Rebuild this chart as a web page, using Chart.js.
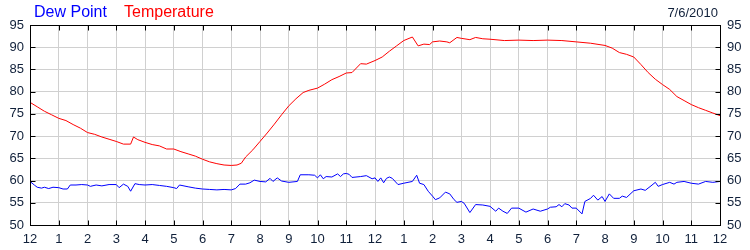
<!DOCTYPE html>
<html>
<head>
<meta charset="utf-8">
<script src="https://cdn.jsdelivr.net/npm/chart.js@4.4.1/dist/chart.umd.min.js"></script>
<style>
  html, body { margin: 0; padding: 0; background: #ffffff; }
  #wrap { position: relative; width: 750px; height: 250px; }
  #c { position: absolute; left: 0; top: 0; }
  .lbl { position: absolute; font-family: "Liberation Sans", Arial, sans-serif; white-space: nowrap; }
  #dew { left: 34px; top: 4px; font-size: 16px; line-height: 16px; color: #0000ff; }
  #tmp { left: 124px; top: 4px; font-size: 16px; line-height: 16px; color: #ff0000; }
  #date { right: 32px; top: 6px; font-size: 13px; line-height: 13px; color: #10203a; }
</style>
</head>
<body>
<div id="wrap">
  <canvas id="c" width="750" height="250"></canvas>
  <span class="lbl" id="dew">Dew Point</span>
  <span class="lbl" id="tmp">Temperature</span>
  <span class="lbl" id="date">7/6/2010</span>
</div>
<script>
const hourLabels = ['12','1','2','3','4','5','6','7','8','9','10','11','12','1','2','3','4','5','6','7','8','9','10','11','12'];
const yTicks = [50, 55, 60, 65, 70, 75, 80, 85, 90, 95];

const tempHours = [0,0.25,0.5,0.75,1,1.25,1.5,1.75,2,2.25,2.5,2.75,3,3.25,3.5,3.6,3.75,4,4.25,4.5,4.75,5,5.25,5.5,5.75,6,6.25,6.5,6.75,7,7.2,7.35,7.5,7.75,8,8.25,8.5,8.75,9,9.25,9.5,9.7,10,10.25,10.5,10.75,11,11.2,11.5,11.7,12,12.25,12.5,12.75,13,13.3,13.5,13.7,13.9,14,14.25,14.5,14.6,14.85,15,15.3,15.5,15.75,16,16.5,17,17.5,18,18.5,19,19.5,20,20.25,20.5,20.75,21,21.25,21.5,21.75,22,22.25,22.5,22.75,23,23.25,23.5,23.75,24];
const tempValues = [77.6,76.6,75.6,74.8,74.0,73.5,72.6,71.8,70.8,70.4,69.8,69.3,68.8,68.2,68.2,69.8,69.2,68.6,68.1,67.8,67.1,67.1,66.5,66.0,65.5,64.8,64.2,63.8,63.5,63.4,63.5,63.9,65.3,66.9,68.8,70.7,72.7,74.8,76.8,78.4,79.8,80.3,80.8,81.7,82.7,83.4,84.2,84.3,86.3,86.2,87.0,87.8,89.1,90.3,91.5,92.3,90.3,90.7,90.6,91.2,91.4,91.2,91.0,92.2,92.0,91.7,92.2,91.9,91.8,91.5,91.6,91.5,91.6,91.5,91.2,90.9,90.4,89.8,88.8,88.4,87.8,86.1,84.3,82.8,81.6,80.5,78.9,78.0,77.1,76.4,75.8,75.2,74.6];

const dewHours = [0,0.15,0.25,0.4,0.5,0.65,0.8,1,1.15,1.3,1.4,1.6,1.8,2,2.1,2.3,2.5,2.75,3,3.1,3.25,3.4,3.5,3.65,3.8,4,4.25,4.5,4.75,5,5.1,5.2,5.5,5.75,6,6.25,6.5,6.75,7,7.15,7.3,7.5,7.65,7.8,8,8.2,8.35,8.45,8.6,8.75,9,9.3,9.4,9.7,9.9,10,10.1,10.2,10.3,10.5,10.7,10.8,10.9,11,11.1,11.2,11.5,11.7,11.9,12,12.1,12.2,12.3,12.4,12.5,12.6,12.8,13,13.3,13.45,13.55,13.7,13.85,14,14.1,14.25,14.45,14.6,14.75,14.85,15,15.1,15.3,15.5,15.75,16,16.2,16.3,16.45,16.6,16.75,17,17.25,17.5,17.75,18,18.1,18.3,18.4,18.5,18.6,18.75,18.85,19,19.2,19.3,19.5,19.6,19.75,19.9,20,20.15,20.3,20.5,20.6,20.75,21,21.25,21.4,21.6,21.75,21.85,22,22.25,22.4,22.5,22.75,23,23.25,23.5,23.75,24];
const dewValues = [59.8,59.0,58.5,58.3,58.5,58.2,58.5,58.4,58.1,58.1,59.0,59.0,59.1,59.0,58.7,59.0,58.8,59.1,59.1,58.4,59.2,58.7,57.6,59.3,59.1,59.0,59.1,58.9,58.7,58.4,58.2,59.0,58.6,58.3,58.1,58.0,57.9,58.0,57.9,58.2,59.2,59.2,59.5,60.1,59.8,59.7,60.5,59.8,60.6,59.9,59.6,59.8,61.3,61.3,61.2,60.6,61.3,60.4,60.9,60.8,61.5,60.9,61.5,61.6,61.4,60.7,60.9,61.1,60.4,60.6,59.8,60.6,59.5,60.5,60.8,60.5,59.1,59.4,59.8,61.2,59.4,59.1,57.6,56.5,55.7,56.1,57.4,57.0,55.7,55.1,55.3,54.9,52.8,54.6,54.5,54.2,53.1,53.8,53.1,52.6,53.8,53.8,52.9,53.6,53.1,53.6,54.0,54.1,54.6,54.1,54.8,54.5,53.8,53.8,52.5,55.3,56.0,56.7,55.6,56.4,55.3,57.0,56.0,56.0,56.5,56.2,57.7,58.1,57.8,58.8,59.6,58.7,59.1,59.6,59.2,59.6,59.8,59.4,59.2,59.8,59.6,59.8];

const toPoints = (xs, ys) => xs.map((x, i) => ({ x: x, y: ys[i] }));

Chart.defaults.font.family = '"Liberation Sans", Arial, sans-serif';
Chart.defaults.font.size = 13;
Chart.defaults.color = '#10203a';

const GRID = '#d0d0d0';

const frameTicks = {
  id: 'frameTicks',
  afterDraw(chart) {
    const ctx = chart.ctx;
    const a = chart.chartArea;
    const xs = chart.scales.x;
    const ys = chart.scales.y;
    const L = 5;
    ctx.save();
    ctx.strokeStyle = '#000000';
    ctx.lineWidth = 1;
    ctx.beginPath();
    const top = Math.round(a.top) + 0.5;
    const bot = Math.round(a.bottom) + 0.5;
    const lft = Math.round(a.left) + 0.5;
    const rgt = Math.round(a.right) + 0.5;
    ctx.moveTo(lft, top); ctx.lineTo(rgt, top);
    ctx.lineTo(rgt, bot); ctx.lineTo(lft, bot); ctx.closePath();
    for (let h = 1; h < hourLabels.length - 1; h++) {
      const px = Math.round(xs.getPixelForValue(h)) + 0.5;
      ctx.moveTo(px, top); ctx.lineTo(px, top + L);
      ctx.moveTo(px, bot); ctx.lineTo(px, bot - L);
    }
    for (const v of yTicks) {
      const py = Math.round(ys.getPixelForValue(v)) + 0.5;
      ctx.moveTo(lft, py); ctx.lineTo(lft + L, py);
      ctx.moveTo(rgt, py); ctx.lineTo(rgt - L, py);
    }
    ctx.stroke();
    ctx.restore();
  }
};

new Chart(document.getElementById('c'), {
  type: 'line',
  data: {
    datasets: [
      { label: 'Temperature', data: toPoints(tempHours, tempValues), borderColor: '#ff0000', borderWidth: 1, pointRadius: 0, tension: 0, fill: false },
      { label: 'Dew Point', data: toPoints(dewHours, dewValues), borderColor: '#0000ff', borderWidth: 1, pointRadius: 0, tension: 0, fill: false }
    ]
  },
  options: {
    responsive: false,
    animation: false,
    devicePixelRatio: 1,
    layout: { padding: { top: 25, left: 0, right: 0, bottom: 0 } },
    plugins: { legend: { display: false }, tooltip: { enabled: false } },
    scales: {
      x: {
        type: 'linear', min: 0, max: 24,
        afterFit(s) { s.height = 25; },
        grid: { color: GRID, drawTicks: false, lineWidth: 1 },
        border: { display: true, color: '#000000' },
        ticks: { stepSize: 1, autoSkip: false, maxRotation: 0, padding: 7,
                 callback: (v) => hourLabels[v] }
      },
      y: {
        position: 'left', min: 50, max: 95,
        afterFit(s) { s.width = 30; },
        grid: { color: GRID, drawTicks: false },
        border: { display: true, color: '#000000' },
        ticks: { stepSize: 5, padding: 6, callback: (v) => String(v) }
      },
      y2: {
        position: 'right', min: 50, max: 95,
        afterFit(s) { s.width = 30; },
        grid: { drawOnChartArea: false, drawTicks: false },
        border: { display: true, color: '#000000' },
        ticks: { stepSize: 5, padding: 7, callback: (v) => String(v) }
      }
    }
  },
  plugins: [frameTicks]
});
</script>
</body>
</html>
